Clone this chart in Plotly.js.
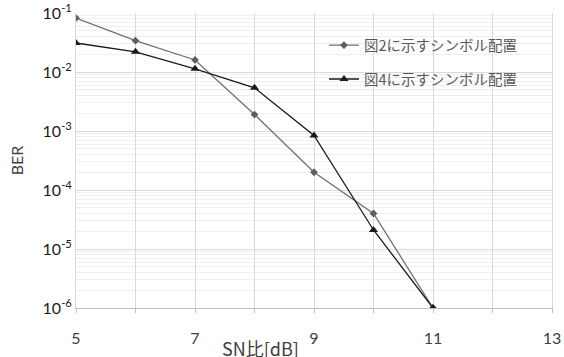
<!DOCTYPE html>
<html>
<head>
<meta charset="utf-8">
<script src="https://cdn.plot.ly/plotly-3.0.1.min.js"></script>
<style>html,body{margin:0;padding:0;background:#fff;}#chart{width:564px;height:357px;}</style>
</head>
<body>
<div id="chart"></div>
<script>
const snr = [5, 6, 7, 8, 9, 10, 11];
const berFig2 = [0.082, 0.034, 0.016, 0.0019, 0.0002, 0.00004, 0.000001];
const berFig4 = [0.031, 0.022, 0.0113, 0.0054, 0.00084, 0.000021, 0.000001];
const seriesNames = ['図2に示すシンボル配置', '図4に示すシンボル配置'];
const xTickVals = [5, 6, 7, 8, 9, 10, 11, 12, 13];
const xTickText = ['5', '', '7', '', '9', '', '11', '', '13'];
const yTickVals = [1e-6, 1e-5, 1e-4, 1e-3, 1e-2, 1e-1];
const yTickText = ['10<sup>-6</sup>', '10<sup>-5</sup>', '10<sup>-4</sup>', '10<sup>-3</sup>', '10<sup>-2</sup>', '10<sup>-1</sup>'];

const minorVals = [];
for (let e = -6; e < -1; e++) {
  for (let m = 2; m <= 9; m++) minorVals.push(m * Math.pow(10, e));
}

const FONT = 'Lato, "Noto Sans CJK JP", sans-serif';

const traces = [
  {
    x: snr, y: berFig2, name: seriesNames[0], mode: 'lines+markers',
    legendgroup: 'a',
    line: {color: '#707070', width: 1.3},
    marker: {symbol: 'diamond', size: 6, color: '#5f5f5f'}
  },
  {
    x: snr, y: berFig4, name: seriesNames[1], mode: 'lines+markers',
    legendgroup: 'b',
    line: {color: '#1a1a1a', width: 1.3},
    marker: {symbol: 'triangle-up', size: 8, color: '#1a1a1a'}
  }
];

const layout = {
  width: 564, height: 357,
  margin: {l: 76, r: 12, t: 12.5, b: 49},
  paper_bgcolor: '#fff', plot_bgcolor: '#fff',
  font: {family: FONT, color: '#404040'},
  showlegend: true,
  legend: {
    x: 0.521, y: 0.945, xanchor: 'left', yanchor: 'top',
    bgcolor: 'rgba(0,0,0,0)',
    font: {size: 14.5, color: '#595959', family: '"Noto Sans CJK JP", sans-serif'},
    tracegroupgap: 12,
    itemwidth: 30
  },
  xaxis: {
    range: [5, 13],
    tickmode: 'array', tickvals: xTickVals, ticktext: xTickText,
    showgrid: true, gridcolor: '#d9d9d9', gridwidth: 1,
    showline: true, linecolor: '#bfbfbf', linewidth: 1,
    ticks: 'outside', ticklen: 4, tickcolor: '#bfbfbf',
    ticklabelstandoff: 12,
    tickfont: {size: 16, color: '#404040', family: FONT},
    zeroline: false
  },
  yaxis: {
    type: 'log', range: [-6, -1],
    tickmode: 'array', tickvals: yTickVals, ticktext: yTickText,
    showgrid: true, gridcolor: '#d9d9d9', gridwidth: 1,
    showline: true, linecolor: '#d9d9d9', mirror: true,
    ticks: '',
    tickfont: {size: 16, color: '#1a1a1a', family: FONT},
    title: {text: 'BER', font: {size: 16, color: '#404040', family: FONT}, standoff: 14},
    minor: {tickmode: 'array', tickvals: minorVals, showgrid: true, gridcolor: '#eeeeee', gridwidth: 1, ticks: ''},
    zeroline: false
  },
  annotations: [
    {
      text: 'SN比[dB]', xref: 'paper', yref: 'paper', x: 0.387, y: -0.135,
      xanchor: 'center', yanchor: 'middle', showarrow: false,
      font: {size: 18, color: '#404040', family: '"Noto Sans CJK JP", Lato, sans-serif'}
    }
  ]
};

Plotly.newPlot('chart', traces, layout, {displayModeBar: false, staticPlot: true});
</script>
</body>
</html>
